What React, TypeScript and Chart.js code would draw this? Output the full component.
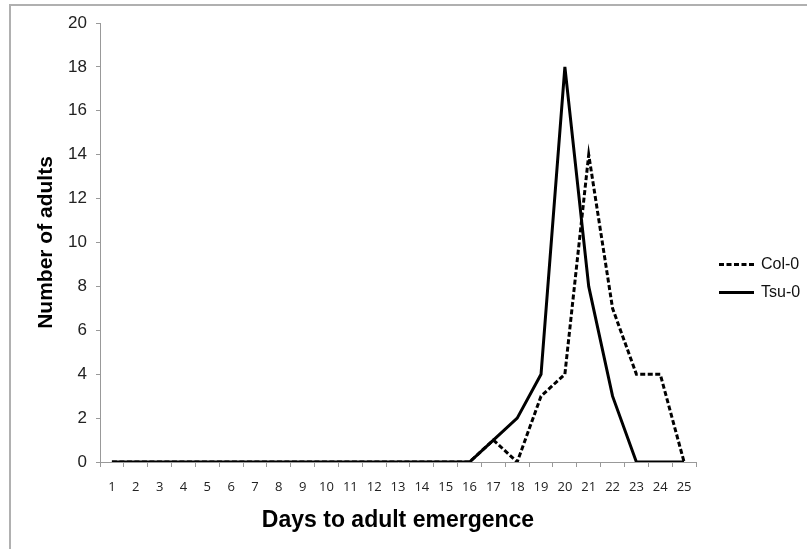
import React, { useEffect, useRef } from "react";
import { Chart, registerables } from "chart.js";

Chart.register(...registerables);

const days = ["1", "2", "3", "4", "5", "6", "7", "8", "9", "10", "11", "12", "13", "14", "15", "16", "17", "18", "19", "20", "21", "22", "23", "24", "25"];
const col0 = [0, 0, 0, 0, 0, 0, 0, 0, 0, 0, 0, 0, 0, 0, 0, 0, 1, 0, 3, 4, 14, 7, 4, 4, 0];
const tsu0 = [0, 0, 0, 0, 0, 0, 0, 0, 0, 0, 0, 0, 0, 0, 0, 0, 1, 2, 4, 18, 8, 3, 0, 0, 0];
const seriesNames = ["Col-0", "Tsu-0"];

const W = 807;
const H = 549;

const framePlugin = {
  id: "frame",
  beforeDraw(chart: any) {
    const ctx = chart.ctx;
    ctx.save();
    ctx.strokeStyle = "#b0b0b0";
    ctx.lineWidth = 2;
    ctx.beginPath();
    ctx.moveTo(10, H);
    ctx.lineTo(10, 5);
    ctx.lineTo(W, 5);
    ctx.stroke();
    ctx.restore();
  },
};

const legendPlugin = {
  id: "customLegend",
  afterDraw(chart: any) {
    const ctx = chart.ctx;
    const area = chart.chartArea;
    const x0 = area.right + 23;
    const yc = (area.top + area.bottom) / 2 + 22;
    ctx.save();
    chart.data.datasets.forEach((ds: any, i: number) => {
      const y = yc + i * 28;
      ctx.strokeStyle = ds.borderColor;
      ctx.lineWidth = ds.borderWidth;
      ctx.setLineDash(ds.borderDash || []);
      ctx.beginPath();
      ctx.moveTo(x0, y);
      ctx.lineTo(x0 + 35, y);
      ctx.stroke();
      ctx.setLineDash([]);
      ctx.fillStyle = "#111";
      ctx.font = "16px 'Liberation Sans', Arial, sans-serif";
      ctx.textBaseline = "middle";
      ctx.textAlign = "left";
      ctx.fillText(ds.label, x0 + 42, y);
    });
    ctx.restore();
  },
};

export default function App() {
  const ref = useRef<HTMLCanvasElement>(null);
  useEffect(() => {
    if (!ref.current) return;
    const chart = new Chart(ref.current, {
      type: "line",
      data: {
        labels: days,
        datasets: [
          {
            label: seriesNames[0],
            data: col0,
            borderColor: "#000",
            borderWidth: 3,
            borderDash: [5, 2.5],
            pointRadius: 0,
            tension: 0,
            fill: false,
          },
          {
            label: seriesNames[1],
            data: tsu0,
            borderColor: "#000",
            borderWidth: 3,
            pointRadius: 0,
            tension: 0,
            fill: false,
          },
        ],
      },
      options: {
        responsive: false,
        animation: false,
        layout: { padding: { left: 0, right: W - 696, top: 23, bottom: 0 } },
        plugins: {
          legend: { display: false },
          tooltip: { enabled: false },
        },
        scales: {
          x: {
            type: "category",
            offset: true,
            afterFit: (s: any) => {
              s.height = H - 462;
            },
            grid: {
              offset: true,
              drawOnChartArea: false,
              drawTicks: true,
              tickLength: 5,
              color: "#999",
            },
            border: { color: "#999", width: 1 },
            ticks: {
              padding: 12,
              color: "#222",
              maxRotation: 0,
              autoSkip: false,
              font: { family: "'Open Sans', sans-serif", size: 13 },
            },
            title: {
              display: true,
              text: "Days to adult emergence",
              color: "#000",
              font: { family: "'Liberation Sans', Arial, sans-serif", size: 23, weight: "bold" },
              padding: { top: 0, bottom: 15 },
            },
          },
          y: {
            min: 0,
            max: 20,
            afterFit: (s: any) => {
              s.width = 100;
            },
            grid: {
              drawOnChartArea: false,
              drawTicks: true,
              tickLength: 4,
              color: "#999",
            },
            border: { color: "#999", width: 1 },
            ticks: {
              stepSize: 2,
              padding: 9,
              color: "#222",
              font: { family: "'Liberation Sans', Arial, sans-serif", size: 17 },
            },
            title: {
              display: true,
              text: "Number of adults",
              color: "#000",
              font: { family: "'Liberation Sans', Arial, sans-serif", size: 21, weight: "bold" },
              padding: { top: 34, bottom: 0 },
            },
          },
        },
      },
      plugins: [framePlugin, legendPlugin],
    });
    return () => chart.destroy();
  }, []);
  return (
    <div style={{ position: "absolute", left: 0, top: 0, width: W, height: H, background: "#fff" }}>
      <canvas ref={ref} width={W} height={H} style={{ display: "block" }} />
    </div>
  );
}
